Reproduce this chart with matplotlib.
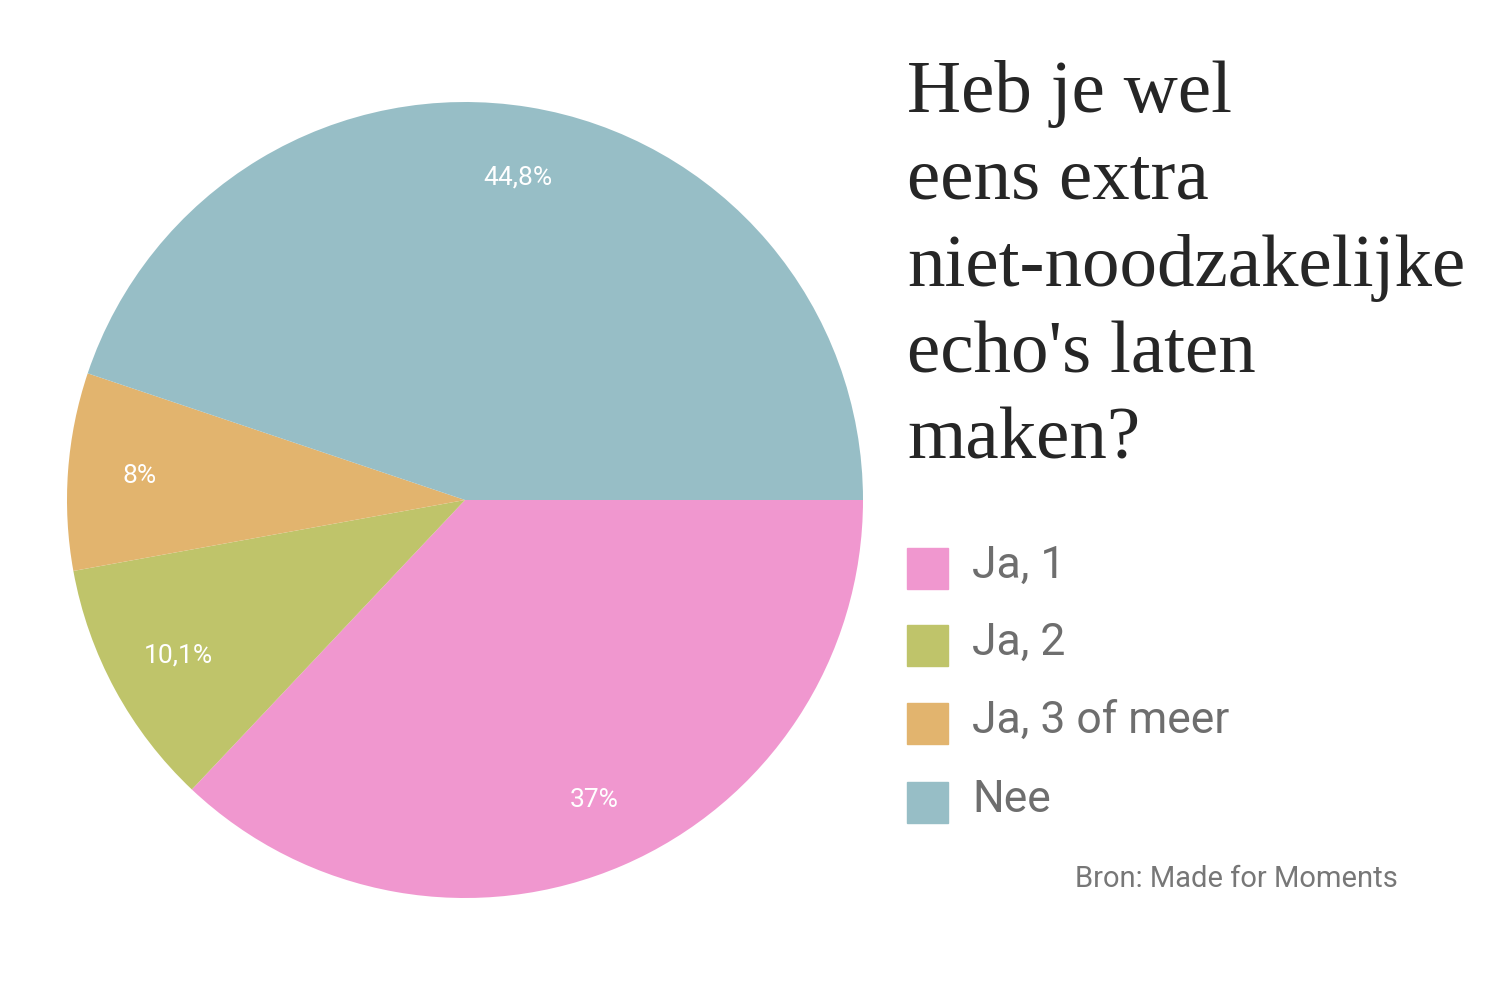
import numpy as np
import matplotlib.pyplot as plt
from matplotlib.patches import Rectangle

# data
labels = ['Ja, 1', 'Ja, 2', 'Ja, 3 of meer', 'Nee']
values = [37.0, 10.1, 8.0, 44.8]
pct_text = ['37%', '10,1%', '8%', '44,8%']
colors = ['#F097CF', '#BFC46A', '#E2B46E', '#97BEC6']

title = "Heb je wel\neens extra\nniet-noodzakelijke\necho's laten\nmaken?"
source = 'Bron: Made for Moments'

W, H = 1500, 999
fig = plt.figure(figsize=(W / 100, H / 100), dpi=100)

# pie axes: center (465, 500) px, radius 398 px
cx, cy, r = 465, 500, 398
ax = fig.add_axes([(cx - r) / W, (H - cy - r) / H, 2 * r / W, 2 * r / H])
wedges, texts = ax.pie(values, colors=colors, startangle=0, counterclock=False,
                       wedgeprops={'linewidth': 0})
ax.set_xlim(-1, 1)
ax.set_ylim(-1, 1)
ax.axis('off')

# percentage labels inside the slices
for w, t in zip(wedges, pct_text):
    mid = np.deg2rad((w.theta1 + w.theta2) / 2)
    ax.text(0.82 * np.cos(mid), 0.82 * np.sin(mid), t, color='white',
            fontsize=19, family='Roboto', ha='center', va='center')

# title
fig.text(907 / W, 1 - 60 / H, title, family='Liberation Serif', fontsize=54,
         color='#262626', ha='left', va='top', linespacing=1.37)

# legend
rows_y = [566, 643, 721, 800]
for lab, col, y in zip(labels, colors, rows_y):
    fig.patches.append(Rectangle((907 / W, 1 - (y + 23) / H), 41 / W, 41 / H,
                                 transform=fig.transFigure, color=col))
    fig.text(972 / W, 1 - y / H, lab, family='Roboto', fontsize=32,
             color='#6e6e6e', ha='left', va='center')

fig.text(1398 / W, 1 - 879 / H, source, family='Roboto', fontsize=21,
         color='#777777', ha='right', va='center')

fig.savefig('out.png', dpi=100, facecolor='white')
